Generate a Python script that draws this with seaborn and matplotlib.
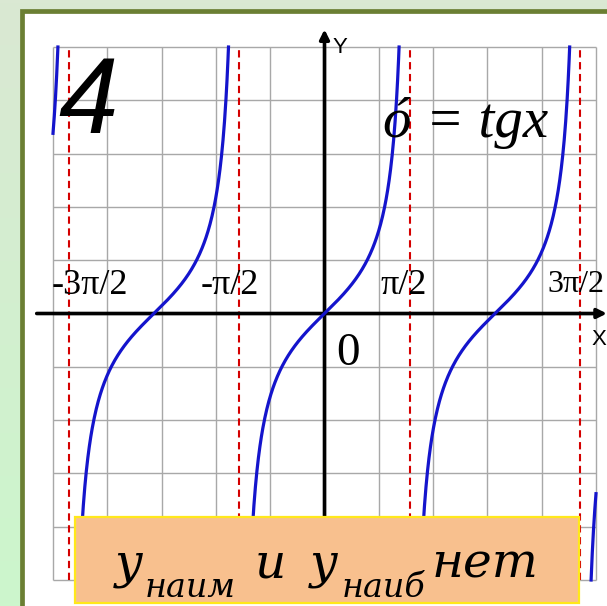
import numpy as np
import pandas as pd
import matplotlib.pyplot as plt
from matplotlib.patches import Rectangle
import seaborn as sns

W, H = 607, 606

# y = tg x : branch centres, asymptotes and their labels
branch_centres = [-2 * np.pi, -np.pi, 0.0, np.pi, 2 * np.pi]
asymptotes = [-3 * np.pi / 2, -np.pi / 2, np.pi / 2, 3 * np.pi / 2]
asymptote_labels = ['-3π/2', '-π/2', 'π/2', '3π/2']
grid_ticks = list(range(-5, 6))
y_cap = 5

# build the branches of tg x, cut to the grid square
rows = []
for i, c in enumerate(branch_centres):
    lo = max(c - np.arctan(y_cap), -5)
    hi = min(c + np.arctan(y_cap), 5)
    if hi <= lo:
        continue
    xs = np.linspace(lo, hi, 300)
    for x in xs:
        rows.append({'x': x, 'y': np.tan(x), 'branch': i})
curve = pd.DataFrame(rows)


def fx(px):
    return px / W


def fy(py):
    return 1 - py / H


fig = plt.figure(figsize=(W / 100, H / 100), dpi=100)

# light green backdrop
bg = fig.add_axes([0, 0, 1, 1], zorder=-3)
top = np.array([0xda, 0xe8, 0xd3]) / 255
bot = np.array([0xcc, 0xf6, 0xcc]) / 255
t = np.linspace(0, 1, 200)[:, None]
grad = (top * (1 - t) + bot * t)[:, None, :]
bg.imshow(grad, aspect='auto', extent=[0, 1, 0, 1])
bg.axis('off')

# olive frame with white inside
fig.add_artist(Rectangle((fx(21.5), fy(700)), (700 - 21.5) / W, (700 - 11) / H,
                         transform=fig.transFigure, facecolor='white',
                         edgecolor='#6b7f33', lw=3.4, zorder=-2))

ax = fig.add_axes([0, 0, 1, 1])
ax.set_xlim((0 - 324.5) / 54.3, (W - 324.5) / 54.3)
ax.set_ylim(-(H - 313.5) / 53.3, 313.5 / 53.3)
ax.axis('off')
ax.patch.set_alpha(0)

# grid
ax.vlines(grid_ticks, -5, 5, colors='#a8a8a8', lw=1.0, zorder=1)
ax.hlines(grid_ticks, -5, 5, colors='#a8a8a8', lw=1.0, zorder=1)

# asymptotes
ax.vlines(asymptotes, -5, 5, colors='#d40000', linestyles=(0, (3.5, 2.2)),
          lw=1.5, zorder=2)

# axes with arrows
ax.annotate('', xy=(5.2, 0), xytext=(-5.3, 0),
            arrowprops=dict(arrowstyle='-|>', lw=2.6, color='black',
                            mutation_scale=14, shrinkA=0, shrinkB=0), zorder=3)
ax.annotate('', xy=(0, 5.33), xytext=(0, -5),
            arrowprops=dict(arrowstyle='-|>', lw=2.6, color='black',
                            mutation_scale=14, shrinkA=0, shrinkB=0), zorder=3)

sns.lineplot(data=curve, x='x', y='y', units='branch', estimator=None,
             sort=False, color='#1414cc', lw=2.3, ax=ax, legend=False, zorder=4)

serif = ['Liberation Serif', 'DejaVu Serif']
sans = ['Liberation Sans', 'DejaVu Sans']

# asymptote labels
lab_pos = [(52, 294, 26), (201, 294, 26), (380, 294, 26), (547, 292, 23)]
for lab, (px, py, fs) in zip(asymptote_labels, lab_pos):
    fig.text(fx(px), fy(py), lab, fontsize=fs, family=serif,
             ha='left', va='baseline', zorder=5)

fig.text(fx(336), fy(365), '0', fontsize=34, family=serif,
         ha='left', va='baseline', zorder=5)
fig.text(fx(333), fy(53), 'Y', fontsize=16, family=sans,
         ha='left', va='baseline', zorder=5)
fig.text(fx(591), fy(345), 'X', fontsize=16, family=sans,
         ha='left', va='baseline', zorder=5)

fig.text(fx(58), fy(133), '4', fontsize=77, family=sans, style='italic',
         ha='left', va='baseline', zorder=5)
fig.text(fx(383), fy(137), 'ó = tgx', fontsize=41, family=serif,
         style='italic', ha='left', va='baseline', zorder=5)

# note box
fig.add_artist(Rectangle((fx(75), fy(603)), (579 - 75) / W, (603 - 517) / H,
                         transform=fig.transFigure, facecolor='#f8c08e',
                         edgecolor='#ffe81a', lw=1.6, zorder=6))
box_serif = ['DejaVu Serif']
parts = [
    (115, 577, 35, 'y'),
    (145, 597, 24, 'наим'),
    (255, 577, 35, 'и'),
    (310, 577, 35, 'y'),
    (342, 597, 24, 'наиб'),
    (432, 577, 35, 'нет'),
]
for px, py, fs, s in parts:
    fig.text(fx(px), fy(py), s, fontsize=fs, family=box_serif, style='italic',
             ha='left', va='baseline', zorder=7)

fig.savefig('out.png', dpi=100)
